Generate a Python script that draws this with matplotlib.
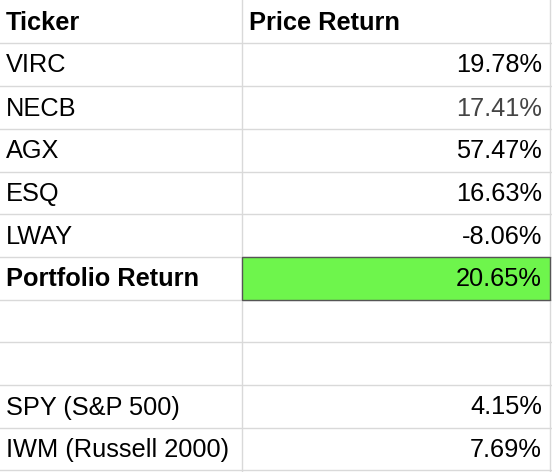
import matplotlib
matplotlib.use("Agg")
import matplotlib.pyplot as plt
from matplotlib.patches import Rectangle

headers = ["Ticker", "Price Return"]
tickers = ["VIRC", "NECB", "AGX", "ESQ", "LWAY", "Portfolio Return", "", "", "SPY (S&P 500)", "IWM (Russell 2000)"]
returns = ["19.78%", "17.41%", "57.47%", "16.63%", "-8.06%", "20.65%", "", "", "4.15%", "7.69%"]
bold_rows = ["Portfolio Return"]
highlight_rows = ["Portfolio Return"]

W, H = 552, 472
fig = plt.figure(figsize=(W/100, H/100), dpi=100)
ax = fig.add_axes([0, 0, 1, 1])
ax.set_xlim(0, W); ax.set_ylim(H, 0); ax.axis("off")

row_edges = [0, 43, 86, 129, 172, 214, 257, 300, 342, 385, 428, 470]
col_x = [0, 242, 550]
font = "Liberation Sans"
fs = 18.3

rows = [(headers[0], headers[1], True)] + [(t, r, t in bold_rows) for t, r in zip(tickers, returns)]
for i, (t, r, b) in enumerate(rows):
    y0, y1 = row_edges[i], row_edges[i+1]
    if t in highlight_rows:
        ax.add_patch(Rectangle((col_x[1], y0), col_x[2]-col_x[1], y1-y0, facecolor="#6ef54c", edgecolor="#555555", lw=1.0, zorder=2))
    yc = (y0+y1)/2 + 1
    ax.text(6, yc, t, ha="left", va="center", fontsize=fs, family=font, fontweight="bold" if b else "normal", color="black", zorder=3)
    if i == 0:
        ax.text(col_x[1]+7, yc, r, ha="left", va="center", fontsize=fs, family=font, fontweight="bold", zorder=3)
    else:
        ax.text(col_x[2]-8, yc, r, ha="right", va="center", fontsize=fs, family=font, color="#444444" if t == "NECB" else "black", zorder=3)

for y in row_edges[1:]:
    ax.plot([0, W], [y, y], color="#d9d9d9", lw=1, zorder=1)
for x in col_x[1:]:
    ax.plot([x, x], [0, H], color="#d9d9d9", lw=1, zorder=1)

fig.savefig("out.png", dpi=100, facecolor="white")
